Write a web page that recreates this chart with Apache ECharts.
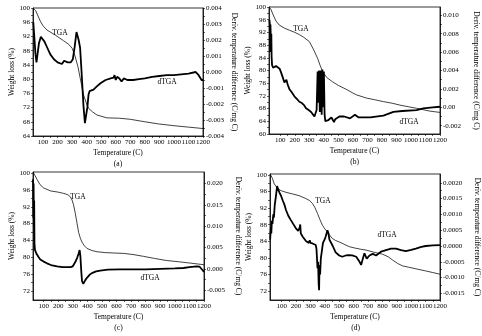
<!DOCTYPE html>
<html>
<head>
<meta charset="utf-8">
<script src="https://cdn.jsdelivr.net/npm/echarts@6/dist/echarts.min.js"></script>
<style>
  html, body { margin: 0; padding: 0; background: #fff; }
  #chart { width: 482px; height: 336px; }
</style>
</head>
<body>
<div id="chart"></div>
<script>
// temperature (C), weight loss (%) / deriv. temperature difference (C/mg C)
var tgaA = [[31,100],[50,99.2],[81,96.3],[100,95],[127,93.8],[184,92.4],[241,90.8],[276,89.8],[300,88.7],[320,86.5],[340,83.5],[356,80.2],[379,75.5],[400,73],[413,71.8],[440,70.8],[471,69.9],[539,69.1],[626,69],[700,68.7],[800,68],[893,67.4],[1000,66.9],[1100,66.5],[1200,66.1]];
var dtgaA = [[33,0.0031],[40,0.0022],[48,0.0011],[55,0.0006],[62,0.0011],[72,0.0018],[85,0.0022],[95,0.0022],[110,0.0019],[130,0.0015],[150,0.0011],[175,0.0008],[200,0.0006],[230,0.0005],[245,0.0007],[255,0.00075],[270,0.0006],[290,0.0006],[305,0.0008],[318,0.0016],[330,0.0025],[338,0.0024],[345,0.002],[355,0.0015],[365,0],[378,-0.0021],[388,-0.0032],[395,-0.0031],[405,-0.0022],[413,-0.0014],[420,-0.0012],[430,-0.0012],[447,-0.0011],[470,-0.0009],[495,-0.0007],[530,-0.0005],[565,-0.0004],[585,-0.00035],[592,-0.0002],[600,-0.0005],[610,-0.0003],[625,-0.0004],[640,-0.0006],[655,-0.0004],[680,-0.0005],[720,-0.0005],[760,-0.00045],[800,-0.0004],[850,-0.0003],[900,-0.00025],[950,-0.0002],[1000,-0.0002],[1050,-0.00015],[1100,-0.0001],[1150,0],[1170,-0.0002],[1190,-0.0005],[1200,-0.0005]];

var tgaB = [[22,100],[35,99.3],[48,97.8],[70,95.6],[93,94.3],[130,93.3],[162,92.7],[200,92],[231,91.3],[260,90.5],[300,89.1],[330,86.5],[357,83.8],[375,81.5],[392,79.6],[420,77.8],[461,76.4],[500,75.3],[553,74.1],[600,72.9],[626,72.3],[695,71.3],[750,70.8],[810,70.2],[870,69.7],[924,69.1],[980,68.6],[1039,68.1],[1090,67.6],[1131,67.2],[1200,66.8]];
var dtgaB = [[25,0.0095],[28,0.009],[30,0.006],[32,0.009],[35,0.007],[38,0.008],[40,0.0055],[43,0.0046],[50,0.0043],[59,0.0044],[70,0.0045],[82,0.0045],[95,0.0042],[105,0.0038],[118,0.0032],[128,0.0027],[135,0.0029],[142,0.003],[150,0.0025],[162,0.002],[180,0.0016],[197,0.0012],[215,0.0009],[231,0.0006],[245,0.0005],[255,0.0006],[265,0.0002],[277,-0.0001],[295,-0.0003],[312,-0.0005],[325,-0.0007],[335,-0.001],[342,-0.0009],[350,-0.0003],[357,0.0039],[360,0.0035],[363,0.0005],[367,0.004],[372,-0.0005],[378,0.004],[385,-0.0008],[390,0.0041],[395,0],[400,0.0039],[405,-0.0008],[410,-0.0015],[420,-0.0016],[430,-0.0014],[441,-0.0012],[452,-0.0011],[461,-0.0013],[470,-0.0016],[478,-0.0013],[490,-0.0011],[507,-0.001],[540,-0.001],[580,-0.0012],[614,-0.0008],[640,-0.0011],[720,-0.0011],[810,-0.0009],[879,-0.0005],[940,-0.0004],[1039,-0.0003],[1085,-0.00012],[1150,0],[1200,0.00006]];

var tgaC = [[27,100.3],[40,99.5],[55,98.5],[75,97.3],[100,96.5],[146,95.8],[200,95.5],[237,95.2],[265,94.9],[283,94.4],[295,93.6],[305,92.5],[317,90.5],[329,88.1],[340,85.9],[352,84.5],[363,83.6],[380,82.7],[397,82.1],[430,81.6],[466,81.3],[520,81.1],[580,81],[650,80.9],[720,80.6],[785,80.2],[860,79.7],[945,79.2],[1030,78.9],[1105,78.6],[1200,78.2]];
var dtgaC = [[27,0.021],[29,0.012],[31,0.02],[33,0.01],[35,0.016],[37,0.006],[40,0.0045],[50,0.0036],[55,0.0032],[66,0.0027],[77,0.0022],[100,0.0017],[123,0.0013],[150,0.0009],[192,0.0006],[230,0.0004],[260,0.0004],[285,0.0004],[300,0.0006],[317,0.0016],[330,0.0026],[340,0.0036],[347,0.0044],[352,0.003],[358,-0.0005],[363,-0.0028],[372,-0.0035],[385,-0.0027],[397,-0.0021],[415,-0.0014],[431,-0.001],[460,-0.0006],[488,-0.0004],[540,-0.0002],[620,-0.0001],[700,-0.0001],[800,-0.0001],[900,0],[1000,0.0001],[1059,0.0002],[1100,0.0004],[1150,0.0006],[1170,0.0005],[1185,-0.0001],[1200,-0.0007]];

var tgaD = [[20,100.2],[35,99.2],[49,97.8],[70,96.8],[95,96.2],[130,95.8],[176,95.4],[220,95],[268,94.3],[295,93.8],[314,93.1],[330,92.2],[349,90.7],[365,89.3],[383,87.9],[400,87],[418,86.3],[435,85.4],[452,84.7],[475,84.2],[498,83.9],[540,83.2],[572,82.7],[608,82.4],[650,82.1],[687,81.9],[740,81.4],[802,80.9],[840,80.3],[871,79.5],[905,78.7],[940,78.1],[980,77.8],[1032,77.4],[1100,76.9],[1150,76.5],[1200,76.1]];
var dtgaD = [[20,0.0002],[25,0.0006],[28,0.0004],[32,0.0008],[36,0.0007],[42,0.001],[46,0.0009],[52,0.0013],[61,0.0016],[68,0.0019],[75,0.0018],[84,0.0017],[95,0.0016],[107,0.00145],[120,0.0013],[130,0.00114],[147,0.00095],[164,0.00082],[180,0.0007],[199,0.00056],[215,0.00048],[222,0.00045],[226,0.0006],[229,0.00068],[233,0.0004],[245,0.0003],[256,0.00024],[270,0.00015],[280,0.00013],[290,0.0001],[295,0.00018],[300,0.0001],[314,0.00008],[325,0.00006],[337,0.00003],[342,-0.0001],[349,-0.0007],[353,-0.0005],[357,-0.0012],[360,-0.0014],[363,-0.0006],[367,-0.0009],[372,-0.0004],[378,-0.0002],[387,0.0001],[398,0.0002],[406,0.0003],[418,0.0005],[425,0.0004],[432,0.0002],[440,0.0002],[455,0],[475,-0.0002],[500,-0.0003],[521,-0.00034],[545,-0.0003],[567,-0.00029],[590,-0.0003],[618,-0.00034],[641,-0.0005],[652,-0.0006],[664,-0.0004],[675,-0.00023],[691,-0.0004],[710,-0.0003],[733,-0.00025],[756,-0.0003],[790,-0.00018],[825,-0.00013],[860,-0.00008],[894,-0.00008],[906,-0.00003],[929,-0.00013],[963,-0.00016],[1000,-0.00012],[1032,-0.00008],[1070,-0.00003],[1101,0],[1150,0.00002],[1200,0.00003]];

var tempTicks = [100,200,300,400,500,600,700,800,900,1000,1100,1200];
var wTicksA = [64,68,72,76,80,84,88,92,96,100];
var wTicksB = [60,64,68,72,76,80,84,88,92,96,100];
var wTicksCD = [72,76,80,84,88,92,96,100];
var dTicksA = [-0.004,-0.003,-0.002,-0.001,0,0.001,0.002,0.003,0.004];
var dTicksB = [-0.002,0,0.002,0.004,0.006,0.008,0.010];
var dTicksC = [-0.005,0,0.005,0.010,0.015,0.020];
var dTicksD = [-0.0015,-0.001,-0.0005,0,0.0005,0.001,0.0015,0.002];

var FONT = '"Liberation Serif", "DejaVu Serif", serif';
var chart = echarts.init(document.getElementById('chart'));

function halfSteps(ticks) {
  var res = [];
  for (var i = 0; i < ticks.length; i++) {
    res.push(ticks[i]);
    if (i < ticks.length - 1) res.push((ticks[i] + ticks[i + 1]) / 2);
  }
  return res;
}

var grids = [], xAxes = [], yAxes = [], series = [], graphics = [];

function panel(p) {
  var gi = grids.length;
  grids.push({ left: p.box[0], top: p.box[1], width: p.box[2], height: p.box[3],
    show: true, borderColor: '#000', borderWidth: 0.8, backgroundColor: '#fff' });
  var axisLine = { onZero: false, lineStyle: { color: '#000', width: 0.8 } };
  var label = { color: '#000', fontFamily: FONT, fontSize: 7, hideOverlap: false };
  var nameStyle = { color: '#000', fontFamily: FONT, fontSize: 7.5 };
  var tick = { length: 2, lineStyle: { color: '#000', width: 0.6 } };
  xAxes.push({
    type: 'value', gridIndex: gi, min: p.xmin, max: 1200,
    name: 'Temperature (C)', nameLocation: 'middle', nameGap: 13, nameTextStyle: nameStyle,
    axisLine: axisLine, splitLine: { show: false },
    axisTick: Object.assign({ customValues: halfSteps(tempTicks) }, tick),
    axisLabel: Object.assign({ margin: 3, customValues: tempTicks, showMaxLabel: true,
      formatter: function (v) { return String(v); } }, label)
  });
  yAxes.push({
    type: 'value', gridIndex: gi, position: 'left', min: p.wmin, max: p.wmax,
    name: 'Weight loss (%)', nameLocation: 'middle', nameGap: 17, nameTextStyle: nameStyle,
    axisLine: axisLine, splitLine: { show: false },
    axisTick: Object.assign({ customValues: halfSteps(p.wticks) }, tick),
    axisLabel: Object.assign({ margin: 3, customValues: p.wticks,
      formatter: function (v) { return String(v); } }, label)
  });
  yAxes.push({
    type: 'value', gridIndex: gi, position: 'right', min: p.dmin, max: p.dmax,
    name: 'Deriv. temperature difference (C/mg C)', nameLocation: 'middle', nameRotate: -90,
    nameGap: p.dgap, nameTextStyle: nameStyle,
    axisLine: axisLine, splitLine: { show: false },
    axisTick: Object.assign({ customValues: halfSteps(p.dticks) }, tick),
    axisLabel: Object.assign({ margin: 3, customValues: p.dticks, formatter: p.dfmt }, label)
  });
  series.push({
    type: 'line', xAxisIndex: gi, yAxisIndex: gi * 2, data: p.tga,
    showSymbol: false, symbol: 'none', animation: false, clip: true,
    lineStyle: { color: '#111', width: 0.8 }
  });
  series.push({
    type: 'line', xAxisIndex: gi, yAxisIndex: gi * 2 + 1, data: p.dtga,
    showSymbol: false, symbol: 'none', animation: false, clip: true,
    lineStyle: { color: '#000', width: 1.8 }
  });
  var txt = { fill: '#000', font: '7.5px ' + FONT, textAlign: 'center', textVerticalAlign: 'middle' };
  graphics.push({ type: 'text', x: p.tgaPos[0], y: p.tgaPos[1], style: Object.assign({ text: 'TGA' }, txt) });
  graphics.push({ type: 'text', x: p.dtgaPos[0], y: p.dtgaPos[1], style: Object.assign({ text: 'dTGA' }, txt) });
  graphics.push({ type: 'text', x: p.box[0] + p.box[2] / 2, y: p.box[1] + p.box[3] + 28,
    style: Object.assign({ text: p.letter }, txt) });
}

function fmt(d) {
  return function (v) {
    if (Math.abs(v) < 1e-12) return (0).toFixed(d);
    return v.toFixed(d);
  };
}

panel({ box: [33, 8, 170, 128], xmin: 31, wmin: 64, wmax: 100, wticks: wTicksA,
  dmin: -0.004, dmax: 0.004, dticks: dTicksA, dfmt: fmt(3), dgap: 27,
  tga: tgaA, dtga: dtgaA, tgaPos: [60, 33], dtgaPos: [167, 82], letter: '(a)' });
panel({ box: [269, 7, 171, 127], xmin: 22, wmin: 60, wmax: 100, wticks: wTicksB,
  dmin: -0.0029, dmax: 0.0109, dticks: dTicksB,
  dfmt: function (v) { return Math.abs(v) < 1e-12 ? '0.00' : v.toFixed(3); }, dgap: 32,
  tga: tgaB, dtga: dtgaB, tgaPos: [301, 29], dtgaPos: [409, 122], letter: '(b)' });
panel({ box: [33, 172, 171, 128], xmin: 27, wmin: 69.8, wmax: 100.3, wticks: wTicksCD,
  dmin: -0.0073, dmax: 0.0227, dticks: dTicksC, dfmt: fmt(3), dgap: 30,
  tga: tgaC, dtga: dtgaC, tgaPos: [78, 197], dtgaPos: [150, 278], letter: '(c)' });
panel({ box: [270, 174, 171, 126], xmin: 19, wmin: 69.9, wmax: 100.2, wticks: wTicksCD,
  dmin: -0.00171, dmax: 0.00228, dticks: dTicksD, dfmt: fmt(4), dgap: 33,
  tga: tgaD, dtga: dtgaD, tgaPos: [323, 201], dtgaPos: [387, 235], letter: '(d)' });

chart.setOption({
  backgroundColor: '#fff',
  animation: false,
  grid: grids,
  xAxis: xAxes,
  yAxis: yAxes,
  series: series,
  graphic: graphics
});
</script>
</body>
</html>
